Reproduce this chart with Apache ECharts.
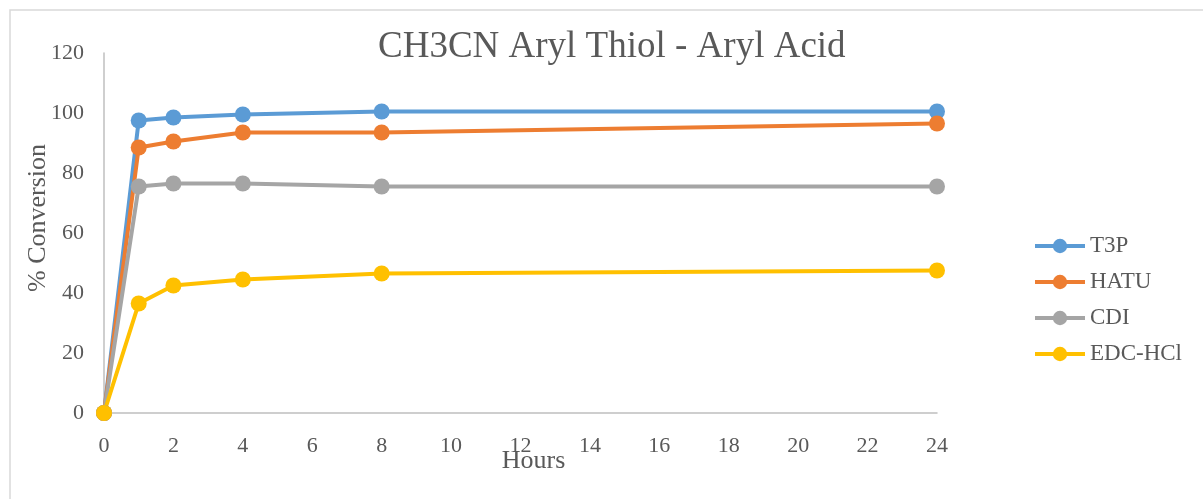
<!DOCTYPE html>
<html>
<head>
<meta charset="utf-8">
<script src="https://cdn.jsdelivr.net/npm/echarts@6/dist/echarts.min.js"></script>
<style>
html,body{margin:0;padding:0;background:#fff;}
#c{width:1203px;height:499px;}
</style>
</head>
<body>
<div id="c"></div>
<script>
const hours = [0, 1, 2, 4, 8, 24];
const t3p  = [0, 97.5, 98.5, 99.5, 100.5, 100.5];
const hatu = [0, 88.5, 90.5, 93.5, 93.5, 96.5];
const cdi  = [0, 75.5, 76.5, 76.5, 75.5, 75.5];
const edc  = [0, 36.5, 42.5, 44.5, 46.5, 47.5];
const seriesNames = ['T3P', 'HATU', 'CDI', 'EDC-HCl'];
const seriesColors = ['#5B9BD5', '#ED7D31', '#A5A5A5', '#FFC000'];
const seriesData = [t3p, hatu, cdi, edc];

const font = 'Liberation Serif';
const textColor = '#595959';

const chart = echarts.init(document.getElementById('c'), null, {renderer: 'canvas'});
chart.setOption({
  backgroundColor: '#fff',
  animation: false,
  title: {
    text: 'CH3CN Aryl Thiol - Aryl Acid',
    left: 373,
    top: 24,
    textStyle: {fontFamily: font, fontSize: 37, fontWeight: 'normal', color: textColor}
  },
  legend: {
    orient: 'vertical',
    left: 1033,
    top: 234,
    padding: 0,
    itemWidth: 50,
    itemHeight: 18,
    itemGap: 12,
    data: seriesNames,
    lineStyle: {width: 4},
    textStyle: {fontFamily: font, fontSize: 23, color: textColor, lineHeight: 24}
  },
  grid: {left: 104, right: 266, top: 53, bottom: 86, containLabel: false},
  xAxis: {
    type: 'value',
    min: 0, max: 24, interval: 2,
    name: 'Hours',
    nameLocation: 'middle',
    nameGap: 35,
    nameMoveOverlap: false,
    nameTextStyle: {fontFamily: font, fontSize: 26, color: textColor, padding: [0, 0, 0, 26]},
    axisLine: {show: true, lineStyle: {color: '#BFBFBF', width: 1.5}},
    axisTick: {show: false},
    splitLine: {show: false},
    axisLabel: {fontFamily: font, fontSize: 22, color: textColor, margin: 22}
  },
  yAxis: {
    type: 'value',
    min: 0, max: 120, interval: 20,
    name: '% Conversion',
    nameLocation: 'middle',
    nameGap: 53,
    nameRotate: 90,
    nameMoveOverlap: false,
    nameTextStyle: {fontFamily: font, fontSize: 26, color: textColor, padding: [0, 0, 0, 30]},
    axisLine: {show: true, lineStyle: {color: '#BFBFBF', width: 1.5}},
    axisTick: {show: false},
    splitLine: {show: false},
    axisLabel: {fontFamily: font, fontSize: 22, color: textColor, margin: 20}
  },
  series: seriesNames.map((n, i) => ({
    name: n,
    type: 'line',
    data: hours.map((h, j) => [h, seriesData[i][j]]),
    symbol: 'circle',
    symbolSize: 16,
    lineStyle: {width: 4, color: seriesColors[i]},
    itemStyle: {color: seriesColors[i]}
  })),
  graphic: [{
    type: 'rect',
    shape: {x: 10, y: 10, width: 1300, height: 600},
    style: {fill: 'none', stroke: '#D9D9D9', lineWidth: 1.5},
    silent: true
  }]
});
</script>
</body>
</html>
